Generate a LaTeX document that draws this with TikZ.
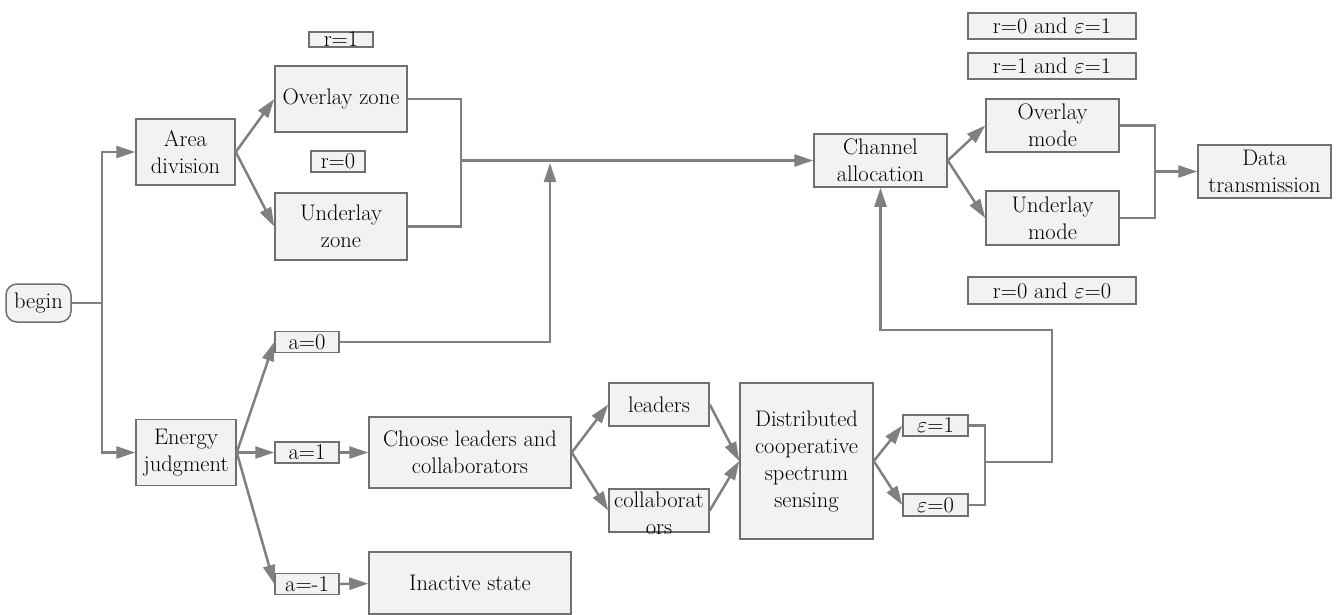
\documentclass[tikz,border=0pt]{standalone}
\usepackage{fix-cm}
\usetikzlibrary{arrows.meta}
\definecolor{boxfill}{HTML}{F2F2F2}
\definecolor{boxline}{HTML}{707070}
\definecolor{flowline}{HTML}{808080}
\newcommand{\eps}{$\varepsilon$}
\begin{document}
\begin{tikzpicture}[x=1pt,y=-1pt,
    box/.style={draw=boxline,fill=boxfill,line width=1.5pt,inner sep=1pt,align=center,
      font=\fontsize{22.5}{27}\selectfont},
    tag/.style={box,inner sep=0pt,minimum height=21pt},
    flow/.style={draw=flowline,line width=2.5pt},
    arr/.style={flow,-{Triangle[length=19pt,width=12pt]}}]
  \useasboundingbox (0,0) rectangle (1336,614);

  \node[box,rounded corners=11pt,minimum width=65pt,minimum height=38pt] (begin) at (38.5,303) {begin};
  \node[box,minimum width=99pt,minimum height=66pt] (area) at (185.5,152) {Area\\division};
  \node[box,minimum width=100pt,minimum height=66pt] (energy) at (186,452.5) {Energy\\judgment};

  \node[tag,minimum width=64pt,minimum height=15pt] (r1) at (341,39.5) {r=1};
  \node[box,minimum width=132pt,minimum height=66pt] (ozone) at (341,99) {Overlay zone};
  \node[tag,minimum width=54pt] (r0) at (338,161.5) {r=0};
  \node[box,minimum width=132pt,minimum height=67pt] (uzone) at (341,226.5) {Underlay\\zone};

  \node[tag,minimum width=64pt] (a0) at (307,342) {a=0};
  \node[tag,minimum width=64pt] (a1) at (307,452.5) {a=1};
  \node[tag,minimum width=64pt] (am1) at (307,584) {a=-1};
  \node[box,minimum width=202pt,minimum height=71pt] (choose) at (470,452.5) {Choose leaders and\\collaborators};
  \node[box,minimum width=202pt,minimum height=62pt] (inactive) at (470,583) {Inactive state};

  \node[box,minimum width=100pt,minimum height=43pt] (leaders) at (659,404.5) {leaders};
  \node[box,minimum width=100pt,minimum height=43pt] (collab) at (659,510.5) {};
  \node[box,draw=none,fill=none,inner sep=0pt,anchor=north] (collabtext) at (659,491) {collaborat\\ors};
  \node[box,minimum width=133pt,minimum height=156pt] (dcss) at (806.5,461) {Distributed\\cooperative\\spectrum\\sensing};
  \node[tag,minimum width=65pt] (e1) at (935.5,425.5) {\eps=1};
  \node[tag,minimum width=65pt,minimum height=22pt] (e0) at (935.5,505) {\eps=0};

  \node[box,minimum width=133pt,minimum height=53pt] (chan) at (880.5,160.5) {Channel\\allocation};
  \node[tag,minimum width=168pt,minimum height=26pt] (lab01) at (1052,26) {r=0 and \eps=1};
  \node[tag,minimum width=168pt,minimum height=26pt] (lab11) at (1052,66) {r=1 and \eps=1};
  \node[box,minimum width=133pt,minimum height=53pt] (omode) at (1052.5,125.5) {Overlay\\mode};
  \node[box,minimum width=133pt,minimum height=54pt] (umode) at (1052.5,218) {Underlay\\mode};
  \node[tag,minimum width=168pt,minimum height=27pt] (lab00) at (1052,290.5) {r=0 and \eps=0};
  \node[box,minimum width=133pt,minimum height=53pt] (data) at (1264.5,171.5) {Data\\transmission};

  \coordinate (jb) at (102,303);
  \coordinate (jz) at (461,160.5);
  \coordinate (ja) at (550,163);
  \coordinate (je) at (985,462);
  \coordinate (jf) at (1052,330);
  \coordinate (jm) at (1155,171.5);

  \draw[flow] (begin) -- (jb);
  \draw[arr] (jb) |- (area);
  \draw[arr] (jb) |- (energy);
  \draw[arr] (area.east) -- (ozone.west);
  \draw[arr] (area.east) -- (uzone.west);
  \draw[flow] (ozone.east) -| (jz) |- (uzone.east);
  \draw[arr] (jz) -- (chan.west);
  \draw[arr] (energy.east) -- (a0.west);
  \draw[arr] (energy.east) -- (a1.west);
  \draw[arr] (energy.east) -- (am1.west);
  \draw[arr] (a0.east) -| (ja);
  \draw[arr] (a1) -- (choose);
  \draw[arr] (am1) -- (inactive);
  \draw[arr] (choose.east) -- (leaders.west);
  \draw[arr] (choose.east) -- (collab.west);
  \draw[arr] (leaders.east) -- (dcss.west);
  \draw[arr] (collab.east) -- (dcss.west);
  \draw[arr] (dcss.east) -- (e1.west);
  \draw[arr] (dcss.east) -- (e0.west);
  \draw[flow] (e1.east) -| (je) |- (e0.east);
  \draw[arr] (je) -| (jf) -| (chan.south);
  \draw[arr] (chan.east) -- (omode.west);
  \draw[arr] (chan.east) -- (umode.west);
  \draw[flow] (omode.east) -| (jm) |- (umode.east);
  \draw[arr] (jm) -- (data.west);
\end{tikzpicture}
\end{document}
